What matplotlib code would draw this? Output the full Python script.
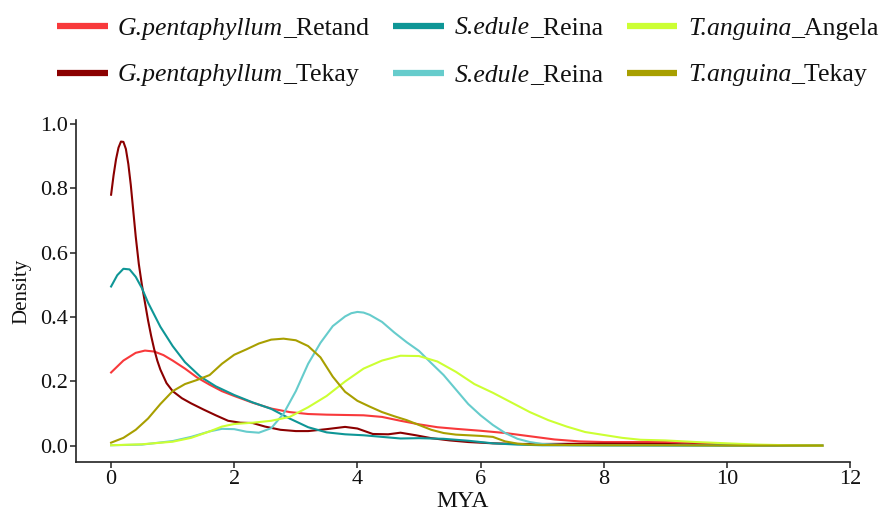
import matplotlib
matplotlib.use("Agg")
import matplotlib.pyplot as plt
from matplotlib.lines import Line2D

plt.rcParams['font.family'] = ['Liberation Serif', 'DejaVu Serif']

# ---- data ----
species = ["G.pentaphyllum", "G.pentaphyllum", "S.edule", "S.edule", "T.anguina", "T.anguina"]
families = ["_Retand", "_Tekay", "_Reina", "_Reina", "_Angela", "_Tekay"]
colors = ["#F8393B", "#8B0000", "#0E9696", "#66CCCC", "#CCFF33", "#A89F00"]

gp_retand_x = [0, 0.2, 0.4, 0.55, 0.7, 0.85, 1.0, 1.2, 1.4, 1.6, 1.8, 2.0, 2.3, 2.6, 2.9, 3.2, 3.5, 3.8, 4.1,
               4.4, 4.7, 5.0, 5.3, 5.6, 6.0, 6.4, 6.8, 7.2, 7.6, 8.0, 8.5, 9.0, 9.3, 9.6, 10.0, 10.5, 11.0, 11.55]
gp_retand_y = [0.228, 0.265, 0.289, 0.296, 0.293, 0.282, 0.265, 0.24, 0.212, 0.19, 0.17, 0.155, 0.134, 0.116,
               0.105, 0.099, 0.097, 0.096, 0.095, 0.09, 0.078, 0.067, 0.058, 0.053, 0.047, 0.04, 0.03, 0.02,
               0.014, 0.012, 0.012, 0.012, 0.011, 0.007, 0.004, 0.002, 0.001, 0.001]

gp_tekay_x = [0, 0.04, 0.08, 0.12, 0.16, 0.2, 0.24, 0.28, 0.32, 0.36, 0.4, 0.45, 0.5, 0.55, 0.6, 0.65, 0.7,
              0.75, 0.8, 0.9, 1.0, 1.15, 1.3, 1.5, 1.7, 1.9, 2.1, 2.3, 2.5, 2.75, 3.0, 3.2, 3.5, 3.8, 4.0,
              4.25, 4.5, 4.7, 4.95, 5.2, 5.5, 5.8, 6.2, 6.6, 7.0, 8.0, 9.0, 10.0, 11.55]
gp_tekay_y = [0.78, 0.84, 0.89, 0.926, 0.945, 0.944, 0.922, 0.875, 0.81, 0.73, 0.65, 0.565, 0.5, 0.445, 0.39,
              0.342, 0.3, 0.265, 0.237, 0.195, 0.17, 0.148, 0.132, 0.113, 0.095, 0.078, 0.072, 0.071, 0.06,
              0.05, 0.046, 0.046, 0.052, 0.059, 0.054, 0.037, 0.036, 0.041, 0.033, 0.024, 0.017, 0.012,
              0.008, 0.006, 0.006, 0.007, 0.006, 0.002, 0.001]

se_reina1_x = [0, 0.1, 0.2, 0.3, 0.4, 0.5, 0.6, 0.8, 1.0, 1.2, 1.45, 1.7, 2.0, 2.3, 2.6, 2.9, 3.2, 3.5, 3.8,
               4.1, 4.4, 4.7, 5.0, 5.4, 5.8, 6.2, 6.6, 7.0, 8.0, 9.0, 10.0, 11.55]
se_reina1_y = [0.495, 0.53, 0.55, 0.548, 0.525, 0.49, 0.445, 0.37, 0.31, 0.26, 0.215, 0.185, 0.158, 0.135,
               0.115, 0.085, 0.058, 0.042, 0.036, 0.033, 0.028, 0.023, 0.024, 0.022, 0.016, 0.008, 0.004,
               0.002, 0.002, 0.001, 0.001, 0.001]

se_reina2_x = [0, 0.5, 1.0, 1.3, 1.6, 1.8, 2.0, 2.2, 2.4, 2.6, 2.8, 3.0, 3.2, 3.4, 3.6, 3.8, 3.9, 4.0, 4.1,
               4.2, 4.4, 4.6, 4.8, 5.0, 5.2, 5.4, 5.6, 5.8, 6.0, 6.2, 6.4, 6.6, 6.8, 7.0, 7.5, 8.0, 9.0, 10.0,
               11.55]
se_reina2_y = [0.002, 0.004, 0.015, 0.028, 0.045, 0.053, 0.052, 0.044, 0.041, 0.055, 0.1, 0.17, 0.255, 0.32,
               0.372, 0.402, 0.412, 0.416, 0.414, 0.407, 0.385, 0.352, 0.322, 0.295, 0.257, 0.22, 0.175, 0.13,
               0.095, 0.065, 0.04, 0.022, 0.012, 0.006, 0.002, 0.001, 0.001, 0.001, 0.001]

ta_angela_x = [0, 0.5, 1.0, 1.3, 1.6, 1.8, 2.0, 2.3, 2.6, 2.9, 3.2, 3.5, 3.8, 4.1, 4.4, 4.7, 5.0, 5.3, 5.6,
               5.9, 6.2, 6.5, 6.8, 7.1, 7.4, 7.7, 8.0, 8.3, 8.6, 9.0, 9.5, 10.0, 10.5, 11.0, 11.55]
ta_angela_y = [0.002, 0.005, 0.013, 0.025, 0.045, 0.06, 0.068, 0.072, 0.078, 0.09, 0.12, 0.155, 0.2, 0.24,
               0.265, 0.28, 0.279, 0.262, 0.23, 0.192, 0.165, 0.135, 0.105, 0.08, 0.06, 0.043, 0.034, 0.025,
               0.019, 0.017, 0.012, 0.008, 0.004, 0.002, 0.001]

ta_tekay_x = [0, 0.2, 0.4, 0.6, 0.8, 1.0, 1.2, 1.4, 1.6, 1.8, 2.0, 2.2, 2.4, 2.6, 2.8, 3.0, 3.2, 3.4, 3.6,
              3.8, 4.0, 4.2, 4.4, 4.6, 4.8, 5.0, 5.2, 5.4, 5.6, 5.8, 6.0, 6.2, 6.4, 6.6, 6.8, 7.0, 8.0, 9.0,
              10.0, 11.55]
ta_tekay_y = [0.01, 0.025, 0.05, 0.085, 0.13, 0.17, 0.192, 0.205, 0.22, 0.255, 0.283, 0.3, 0.318, 0.33,
              0.333, 0.328, 0.31, 0.275, 0.215, 0.168, 0.14, 0.122, 0.105, 0.092, 0.08, 0.065, 0.05, 0.04,
              0.035, 0.033, 0.031, 0.028, 0.014, 0.007, 0.004, 0.003, 0.002, 0.002, 0.001, 0.001]

xs = [gp_retand_x, gp_tekay_x, se_reina1_x, se_reina2_x, ta_angela_x, ta_tekay_x]
ys = [gp_retand_y, gp_tekay_y, se_reina1_y, se_reina2_y, ta_angela_y, ta_tekay_y]

xticks = [0, 2, 4, 6, 8, 10, 12]
yticks = [0.0, 0.2, 0.4, 0.6, 0.8, 1.0]

# ---- figure ----
W, H = 883, 512
fig = plt.figure(figsize=(W / 100, H / 100), dpi=100)
ax = fig.add_axes([76 / W, 50 / H, (850 - 76) / W, (462 - 120) / H])

for x, y, c in zip(xs, ys, colors):
    ax.plot(x, y, color=c, lw=1.5)

ax.set_xlim(-0.57, 12.0)
ax.set_ylim(-0.05, 1.012)
ax.set_xticks(xticks)
ax.set_xticklabels([str(t) for t in xticks])
ax.set_yticks(yticks)
ax.set_yticklabels([f"{t:.1f}" for t in yticks])
for s in ['top', 'right']:
    ax.spines[s].set_visible(False)
for s in ['left', 'bottom']:
    ax.spines[s].set_linewidth(1.2)
    ax.spines[s].set_color('#222222')
ax.tick_params(direction='out', length=4, width=1.1, colors='#222222', labelsize=16,
               labelcolor='#111111', pad=2)
ax.set_xlabel("MYA", fontsize=17, labelpad=1, color='#111111')
ax.set_ylabel("Density", fontsize=15, labelpad=6, color='#111111')

# ---- legend (3 columns x 2 rows, column-major) ----
key_x = [(57, 108), (393, 444), (627, 677)]
text_x = [118, 455, 688]
row_y = [26, 73]
leg_fs = 18.5
fig.canvas.draw()
renderer = fig.canvas.get_renderer()
for i, (sp, fam, c) in enumerate(zip(species, families, colors)):
    col, row = divmod(i, 2)
    yf = 1 - row_y[row] / H
    fig.add_artist(Line2D([key_x[col][0] / W, key_x[col][1] / W], [yf, yf],
                          transform=fig.transFigure, color=c, lw=4.5, solid_capstyle='butt'))
    t1 = fig.text(text_x[col] / W, yf, sp, style='italic', fontsize=leg_fs,
                  va='center_baseline', ha='left', color='#111111')
    bb = t1.get_window_extent(renderer)
    fig.text(bb.x1 / W, yf, fam, fontsize=leg_fs, va='center_baseline', ha='left',
             color='#111111')

fig.savefig("out.png", dpi=100)
